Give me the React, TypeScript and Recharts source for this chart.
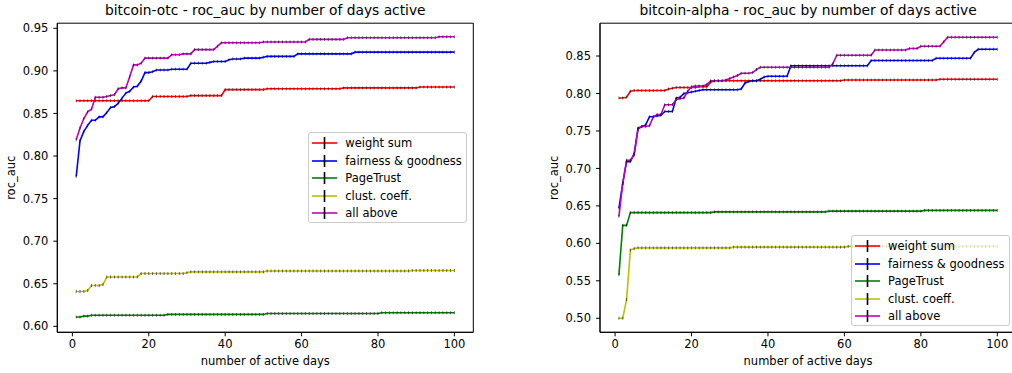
import { LineChart, Line, XAxis, YAxis, Legend, Label, ReferenceArea } from 'recharts'

const FONT = '"DejaVu Sans", sans-serif'

// x values: number of active days
const days = Array.from({ length: 100 }, (_, i) => i + 1)

// bitcoin-otc roc_auc per day
const otcWeightSum = [
  0.865, 0.865, 0.865, 0.865, 0.865, 0.865, 0.865, 0.865, 0.865, 0.865,
  0.865, 0.865, 0.865, 0.865, 0.865, 0.865, 0.865, 0.865, 0.865, 0.865,
  0.870, 0.870, 0.870, 0.870, 0.870, 0.870, 0.870, 0.870, 0.870, 0.870,
  0.871, 0.871, 0.871, 0.871, 0.871, 0.871, 0.871, 0.871, 0.871, 0.878,
  0.878, 0.878, 0.878, 0.878, 0.878, 0.878, 0.878, 0.878, 0.878, 0.878,
  0.879, 0.879, 0.879, 0.879, 0.879, 0.879, 0.879, 0.879, 0.879, 0.879,
  0.879, 0.879, 0.879, 0.879, 0.879, 0.879, 0.879, 0.879, 0.879, 0.879,
  0.880, 0.880, 0.880, 0.880, 0.880, 0.880, 0.880, 0.880, 0.880, 0.880,
  0.880, 0.880, 0.880, 0.880, 0.880, 0.880, 0.880, 0.880, 0.880, 0.880,
  0.881, 0.881, 0.881, 0.881, 0.881, 0.881, 0.881, 0.881, 0.881, 0.881,
]
const otcFairness = [
  0.776, 0.818, 0.829, 0.836, 0.842, 0.842, 0.846, 0.846, 0.851, 0.857,
  0.858, 0.862, 0.868, 0.874, 0.876, 0.881, 0.882, 0.888, 0.898, 0.898,
  0.899, 0.901, 0.901, 0.901, 0.901, 0.902, 0.902, 0.902, 0.902, 0.902,
  0.909, 0.909, 0.909, 0.909, 0.909, 0.910, 0.911, 0.911, 0.911, 0.911,
  0.913, 0.914, 0.914, 0.914, 0.915, 0.915, 0.915, 0.915, 0.915, 0.916,
  0.917, 0.917, 0.917, 0.917, 0.917, 0.917, 0.917, 0.917, 0.920, 0.920,
  0.920, 0.920, 0.920, 0.920, 0.920, 0.920, 0.920, 0.920, 0.920, 0.920,
  0.920, 0.920, 0.920, 0.922, 0.922, 0.922, 0.922, 0.922, 0.922, 0.922,
  0.922, 0.922, 0.922, 0.922, 0.922, 0.922, 0.922, 0.922, 0.922, 0.922,
  0.922, 0.922, 0.922, 0.922, 0.922, 0.922, 0.922, 0.922, 0.922, 0.922,
]
const otcPageTrust = [
  0.611, 0.611, 0.612, 0.612, 0.613, 0.613, 0.613, 0.613, 0.613, 0.613,
  0.613, 0.613, 0.613, 0.613, 0.613, 0.613, 0.613, 0.613, 0.613, 0.613,
  0.613, 0.613, 0.613, 0.613, 0.614, 0.614, 0.614, 0.614, 0.614, 0.614,
  0.614, 0.614, 0.614, 0.614, 0.614, 0.614, 0.614, 0.614, 0.614, 0.614,
  0.614, 0.614, 0.614, 0.614, 0.614, 0.614, 0.614, 0.614, 0.614, 0.614,
  0.615, 0.615, 0.615, 0.615, 0.615, 0.615, 0.615, 0.615, 0.615, 0.615,
  0.615, 0.615, 0.615, 0.615, 0.615, 0.615, 0.615, 0.615, 0.615, 0.615,
  0.615, 0.615, 0.615, 0.615, 0.615, 0.615, 0.615, 0.615, 0.615, 0.615,
  0.616, 0.616, 0.616, 0.616, 0.616, 0.616, 0.616, 0.616, 0.616, 0.616,
  0.616, 0.616, 0.616, 0.616, 0.616, 0.616, 0.616, 0.616, 0.616, 0.616,
]
const otcClust = [
  0.641, 0.641, 0.641, 0.642, 0.648, 0.648, 0.648, 0.649, 0.658, 0.658,
  0.658, 0.658, 0.658, 0.658, 0.658, 0.658, 0.658, 0.662, 0.662, 0.662,
  0.662, 0.662, 0.662, 0.662, 0.662, 0.662, 0.662, 0.662, 0.662, 0.663,
  0.664, 0.664, 0.664, 0.664, 0.664, 0.664, 0.664, 0.664, 0.664, 0.664,
  0.664, 0.664, 0.664, 0.664, 0.664, 0.664, 0.664, 0.664, 0.664, 0.664,
  0.665, 0.665, 0.665, 0.665, 0.665, 0.665, 0.665, 0.665, 0.665, 0.665,
  0.665, 0.665, 0.665, 0.665, 0.665, 0.665, 0.665, 0.665, 0.665, 0.665,
  0.665, 0.665, 0.665, 0.665, 0.665, 0.665, 0.665, 0.665, 0.665, 0.665,
  0.665, 0.665, 0.665, 0.665, 0.665, 0.665, 0.665, 0.665, 0.6655, 0.6655,
  0.6655, 0.6655, 0.6655, 0.6655, 0.6655, 0.6655, 0.6655, 0.6655, 0.6655, 0.6655,
]
const otcAllAbove = [
  0.819, 0.833, 0.844, 0.852, 0.855, 0.869, 0.869, 0.869, 0.870, 0.871,
  0.872, 0.879, 0.880, 0.880, 0.893, 0.907, 0.907, 0.909, 0.915, 0.915,
  0.915, 0.915, 0.915, 0.915, 0.915, 0.919, 0.919, 0.919, 0.920, 0.920,
  0.920, 0.925, 0.925, 0.925, 0.925, 0.925, 0.925, 0.929, 0.933, 0.933,
  0.933, 0.933, 0.933, 0.933, 0.933, 0.933, 0.933, 0.933, 0.933, 0.934,
  0.934, 0.934, 0.934, 0.934, 0.934, 0.934, 0.934, 0.934, 0.934, 0.934,
  0.934, 0.937, 0.937, 0.937, 0.937, 0.937, 0.937, 0.937, 0.937, 0.937,
  0.937, 0.939, 0.939, 0.939, 0.939, 0.939, 0.939, 0.939, 0.939, 0.939,
  0.939, 0.939, 0.939, 0.939, 0.939, 0.939, 0.939, 0.939, 0.939, 0.939,
  0.939, 0.939, 0.939, 0.939, 0.939, 0.940, 0.940, 0.940, 0.940, 0.940,
]

// bitcoin-alpha roc_auc per day
const alphaWeightSum = [
  0.794, 0.794, 0.795, 0.803, 0.804, 0.804, 0.804, 0.804, 0.804, 0.804,
  0.804, 0.804, 0.804, 0.806, 0.807, 0.808, 0.808, 0.808, 0.808, 0.808,
  0.808, 0.809, 0.809, 0.809, 0.815, 0.817, 0.817, 0.817, 0.817, 0.817,
  0.817, 0.817, 0.817, 0.817, 0.817, 0.817, 0.817, 0.817, 0.817, 0.817,
  0.817, 0.817, 0.817, 0.817, 0.817, 0.817, 0.817, 0.817, 0.817, 0.817,
  0.817, 0.817, 0.817, 0.817, 0.817, 0.817, 0.817, 0.817, 0.817, 0.818,
  0.818, 0.818, 0.818, 0.818, 0.818, 0.818, 0.818, 0.818, 0.818, 0.818,
  0.818, 0.818, 0.818, 0.818, 0.818, 0.818, 0.818, 0.818, 0.818, 0.818,
  0.818, 0.818, 0.818, 0.818, 0.819, 0.819, 0.819, 0.819, 0.819, 0.819,
  0.819, 0.819, 0.819, 0.819, 0.819, 0.819, 0.819, 0.819, 0.819, 0.819,
]
const alphaFairness = [
  0.647, 0.680, 0.709, 0.709, 0.720, 0.754, 0.756, 0.758, 0.769, 0.769,
  0.770, 0.771, 0.776, 0.776, 0.776, 0.794, 0.795, 0.800, 0.801, 0.802,
  0.803, 0.804, 0.805, 0.805, 0.805, 0.805, 0.805, 0.805, 0.805, 0.805,
  0.805, 0.805, 0.806, 0.814, 0.816, 0.817, 0.817, 0.819, 0.822, 0.823,
  0.823, 0.823, 0.823, 0.823, 0.823, 0.837, 0.837, 0.837, 0.837, 0.837,
  0.837, 0.837, 0.837, 0.837, 0.837, 0.837, 0.837, 0.837, 0.837, 0.837,
  0.837, 0.837, 0.837, 0.837, 0.837, 0.837, 0.844, 0.844, 0.844, 0.844,
  0.844, 0.844, 0.844, 0.844, 0.844, 0.844, 0.844, 0.844, 0.844, 0.844,
  0.844, 0.844, 0.844, 0.847, 0.847, 0.847, 0.847, 0.847, 0.847, 0.847,
  0.847, 0.847, 0.847, 0.855, 0.859, 0.859, 0.859, 0.859, 0.859, 0.859,
]
const alphaPageTrust = [
  0.558, 0.624, 0.624, 0.641, 0.641, 0.641, 0.641, 0.641, 0.641, 0.641,
  0.641, 0.641, 0.641, 0.641, 0.641, 0.641, 0.641, 0.641, 0.641, 0.641,
  0.641, 0.641, 0.641, 0.641, 0.641, 0.642, 0.642, 0.642, 0.642, 0.642,
  0.642, 0.642, 0.642, 0.642, 0.642, 0.642, 0.642, 0.642, 0.642, 0.642,
  0.642, 0.642, 0.642, 0.642, 0.642, 0.642, 0.642, 0.642, 0.642, 0.642,
  0.642, 0.642, 0.642, 0.642, 0.642, 0.643, 0.643, 0.643, 0.643, 0.643,
  0.643, 0.643, 0.643, 0.643, 0.643, 0.643, 0.643, 0.643, 0.643, 0.643,
  0.643, 0.643, 0.643, 0.643, 0.643, 0.643, 0.643, 0.643, 0.643, 0.643,
  0.644, 0.644, 0.644, 0.644, 0.644, 0.644, 0.644, 0.644, 0.644, 0.644,
  0.644, 0.644, 0.644, 0.644, 0.644, 0.644, 0.644, 0.644, 0.644, 0.644,
]
const alphaClust = [
  0.500, 0.500, 0.525, 0.591, 0.593, 0.594, 0.594, 0.594, 0.594, 0.594,
  0.594, 0.594, 0.594, 0.594, 0.594, 0.594, 0.594, 0.594, 0.594, 0.594,
  0.594, 0.594, 0.594, 0.594, 0.594, 0.594, 0.594, 0.594, 0.594, 0.594,
  0.595, 0.595, 0.595, 0.595, 0.595, 0.595, 0.595, 0.595, 0.595, 0.595,
  0.595, 0.595, 0.595, 0.595, 0.595, 0.595, 0.595, 0.595, 0.595, 0.595,
  0.595, 0.595, 0.595, 0.595, 0.595, 0.595, 0.595, 0.595, 0.595, 0.595,
  0.596, 0.596, 0.596, 0.596, 0.596, 0.596, 0.596, 0.596, 0.596, 0.596,
  0.596, 0.596, 0.596, 0.596, 0.596, 0.596, 0.596, 0.596, 0.596, 0.596,
  0.596, 0.596, 0.596, 0.596, 0.596, 0.596, 0.596, 0.596, 0.596, 0.596,
  0.596, 0.596, 0.596, 0.596, 0.596, 0.596, 0.596, 0.596, 0.596, 0.596,
]
const alphaAllAbove = [
  0.636, 0.680, 0.711, 0.711, 0.718, 0.752, 0.756, 0.756, 0.757, 0.769,
  0.772, 0.772, 0.785, 0.785, 0.785, 0.792, 0.793, 0.794, 0.803, 0.809,
  0.810, 0.810, 0.810, 0.812, 0.817, 0.817, 0.817, 0.817, 0.818, 0.820,
  0.822, 0.824, 0.827, 0.827, 0.827, 0.828, 0.832, 0.835, 0.835, 0.835,
  0.835, 0.835, 0.835, 0.835, 0.835, 0.835, 0.835, 0.835, 0.835, 0.835,
  0.835, 0.835, 0.835, 0.835, 0.835, 0.835, 0.840, 0.851, 0.851, 0.851,
  0.851, 0.851, 0.851, 0.851, 0.851, 0.851, 0.851, 0.858, 0.858, 0.858,
  0.858, 0.858, 0.858, 0.858, 0.858, 0.858, 0.860, 0.860, 0.860, 0.863,
  0.863, 0.863, 0.863, 0.863, 0.863, 0.869, 0.875, 0.875, 0.875, 0.875,
  0.875, 0.875, 0.875, 0.875, 0.875, 0.875, 0.875, 0.875, 0.875, 0.875,
]

const SERIES = [
  { key: 'weightSum', name: 'weight sum', color: '#ff0000' },
  { key: 'fairness', name: 'fairness & goodness', color: '#0000ff' },
  { key: 'pageTrust', name: 'PageTrust', color: '#008000' },
  { key: 'clust', name: 'clust. coeff.', color: '#bfbf00' },
  { key: 'allAbove', name: 'all above', color: '#bf00bf' },
]

const buildRows = (ws: number[], fg: number[], pt: number[], cc: number[], all: number[]) =>
  days.map((day, i) => ({
    day,
    weightSum: ws[i],
    fairness: fg[i],
    pageTrust: pt[i],
    clust: cc[i],
    allAbove: all[i],
  }))

const otcRows = buildRows(otcWeightSum, otcFairness, otcPageTrust, otcClust, otcAllAbove)
const alphaRows = buildRows(alphaWeightSum, alphaFairness, alphaPageTrust, alphaClust, alphaAllAbove)

const X_DOMAIN = [-3.95, 104.95]
const X_TICKS = [0, 20, 40, 60, 80, 100]

// tiny black error bar drawn on every point
const errorTick = (props: any) => {
  const { cx, cy, index, dataKey } = props
  if (cx == null || cy == null) return <g key={`${dataKey}-${index}`} />
  return (
    <line
      key={`${dataKey}-${index}`}
      x1={cx}
      x2={cx}
      y1={cy - 1.5}
      y2={cy + 1.5}
      stroke="#000"
      strokeWidth={1}
      strokeOpacity={0.55}
    />
  )
}

const renderLegend = () => (
  <div
    style={{
      width: 159,
      height: 91,
      boxSizing: 'border-box',
      border: '1px solid #cccccc',
      borderRadius: 3,
      background: 'rgba(255,255,255,0.8)',
      paddingTop: 1,
      fontFamily: FONT,
      fontSize: 11.5,
      color: '#000',
    }}
  >
    {SERIES.map((s) => (
      <div key={s.key} style={{ display: 'flex', alignItems: 'center', height: 17.5 }}>
        <svg width={25} height={14} style={{ marginLeft: 3, marginRight: 8, flex: 'none' }}>
          <line x1={0} x2={25} y1={7} y2={7} stroke={s.color} strokeWidth={1.6} />
          <line x1={12.5} x2={12.5} y1={1} y2={13} stroke="#000" strokeWidth={1.6} />
        </svg>
        <span style={{ whiteSpace: 'nowrap' }}>{s.name}</span>
      </div>
    ))}
  </div>
)

interface PanelProps {
  title: string
  rows: any[]
  left: number
  width: number
  margin: { top: number; right: number; bottom: number; left: number }
  yDomain: number[]
  yTicks: number[]
  legendPos: { left: number; top: number }
}

function RocPanel({ title, rows, left, width, margin, yDomain, yTicks, legendPos }: PanelProps) {
  const tickStyle = { fill: '#000', fontSize: 11.5, fontFamily: FONT }
  return (
    <div style={{ position: 'absolute', left, top: 0 }}>
      <LineChart width={width} height={373} data={rows} margin={margin}>
        <XAxis
          dataKey="day"
          type="number"
          domain={X_DOMAIN}
          ticks={X_TICKS}
          allowDataOverflow
          height={32}
          tickSize={4}
          tickMargin={4}
          stroke="#000"
          tick={tickStyle}
        >
          <Label
            content={(p: any) => {
              const vb = p.viewBox
              return (
                <text x={vb.x + vb.width / 2} y={vb.y + 32.4} textAnchor="middle" fontSize={11.5} fontFamily={FONT} fill="#000">
                  number of active days
                </text>
              )
            }}
          />
        </XAxis>
        <YAxis
          type="number"
          domain={yDomain}
          ticks={yTicks}
          allowDataOverflow
          width={40}
          tickSize={4}
          tickMargin={5}
          stroke="#000"
          tick={tickStyle}
          tickFormatter={(v: number) => v.toFixed(2)}
        >
          <Label
            content={(p: any) => {
              const vb = p.viewBox
              const x = vb.x + vb.width - 42.4
              const y = vb.y + vb.height / 2
              return (
                <text x={x} y={y} transform={`rotate(-90 ${x} ${y})`} textAnchor="middle" fontSize={11.5} fontFamily={FONT} fill="#000">
                  roc_auc
                </text>
              )
            }}
          />
        </YAxis>
        {/* axes frame, with the title above it */}
        <ReferenceArea
          x1={X_DOMAIN[0]}
          x2={X_DOMAIN[1]}
          y1={yDomain[0]}
          y2={yDomain[1]}
          fill="none"
          stroke="#000"
          strokeWidth={1}
          ifOverflow="visible"
        >
          <Label
            content={(p: any) => {
              const vb = p.viewBox
              return (
                <text x={vb.x + vb.width / 2} y={vb.y - 8.7} textAnchor="middle" fontSize={13.8} fontFamily={FONT} fill="#000">
                  {title}
                </text>
              )
            }}
          />
        </ReferenceArea>
        {SERIES.map((s) => (
          <Line
            key={s.key}
            type="linear"
            dataKey={s.key}
            name={s.name}
            stroke={s.color}
            strokeWidth={1.6}
            dot={errorTick}
            activeDot={false}
            isAnimationActive={false}
          />
        ))}
        <Legend
          layout="vertical"
          align="center"
          verticalAlign="middle"
          content={renderLegend}
          wrapperStyle={{ left: legendPos.left, top: legendPos.top, width: 159, height: 91 }}
        />
      </LineChart>
    </div>
  )
}

export default function App() {
  return (
    <div style={{ position: 'absolute', left: 0, top: 0, width: 1012, height: 373, overflow: 'hidden', background: '#fff' }}>
      <RocPanel
        title="bitcoin-otc - roc_auc by number of days active"
        rows={otcRows}
        left={0}
        width={506}
        margin={{ top: 23.2, right: 32.7, bottom: 8.7, left: 17.3 }}
        yDomain={[0.593, 0.956]}
        yTicks={[0.6, 0.65, 0.7, 0.75, 0.8, 0.85, 0.9, 0.95]}
        legendPos={{ left: 308.3, top: 132.3 }}
      />
      <RocPanel
        title="bitcoin-alpha - roc_auc by number of days active"
        rows={alphaRows}
        left={506}
        width={520}
        margin={{ top: 23.2, right: 9.8, bottom: 8.7, left: 54 }}
        yDomain={[0.4813, 0.8938]}
        yTicks={[0.5, 0.55, 0.6, 0.65, 0.7, 0.75, 0.8, 0.85]}
        legendPos={{ left: 345, top: 235.3 }}
      />
    </div>
  )
}
